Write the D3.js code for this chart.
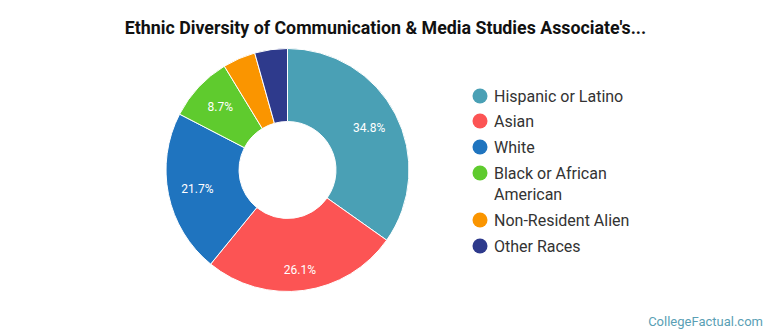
<!DOCTYPE html>
<html><head><meta charset="utf-8">
<script src="https://cdn.jsdelivr.net/npm/d3@7"></script>
<style>body{margin:0;background:#fff;} svg{display:block;font-family:Roboto,"Noto Sans",sans-serif;}</style>
</head><body><svg id="c" width="770" height="335"></svg>
<script>
const categories = ["Hispanic or Latino","Asian","White","Black or African American","Non-Resident Alien","Other Races"];
const values = [34.8, 26.1, 21.7, 8.7, 4.35, 4.35];
const colors = ["#4aa0b5","#fc5454","#1f74bf","#5fcb2e","#fa9500","#2e3a8c"];
const legendLines = [["Hispanic or Latino"],["Asian"],["White"],["Black or African","American"],["Non-Resident Alien"],["Other Races"]];

const svg = d3.select("#c");
svg.append("text").attr("x",385.5).attr("y",34).attr("text-anchor","middle")
  .attr("font-size",17.8).attr("font-weight","bold").attr("fill","#111")
  .text("Ethnic Diversity of Communication & Media Studies Associate's...");

const cx=287.5, cy=170, R=121.5, r=48.5;
const pie = d3.pie().sort(null).value(d=>d.v);
const data = pie(values.map((v,i)=>({v,i})));
const arc = d3.arc().innerRadius(r).outerRadius(R);
const g = svg.append("g").attr("transform",`translate(${cx},${cy})`);
g.selectAll("path").data(data).join("path").attr("d",arc)
  .attr("fill",d=>colors[d.data.i]).attr("stroke","#fff").attr("stroke-width",1);
const labPos = d=>{
  const a=(d.startAngle+d.endAngle)/2, dx=Math.sin(a), dy=-Math.cos(a);
  return [92*dx, 92*dy + (dy>0 ? 9*Math.pow(dy,4) : 0)];
};
g.selectAll("text").data(data.filter(d=>d.data.v>5)).join("text")
  .attr("transform",d=>`translate(${labPos(d)})`).attr("text-anchor","middle").attr("dy","0.35em")
  .attr("font-size",12).attr("fill","#fff").text(d=>d.data.v.toFixed(1)+"%");

const lg = svg.append("g");
const rowY = [96,121,147,173,220,246];
legendLines.forEach((lines,i)=>{
  const y = rowY[i];
  lg.append("circle").attr("cx",480).attr("cy",y).attr("r",7.5).attr("fill",colors[i]);
  lines.forEach((t,j)=>{
    lg.append("text").attr("x",494).attr("y",y+j*21).attr("dy","0.35em")
      .attr("font-size",16).attr("fill","#333").text(t);
  });
});
svg.append("text").attr("x",763).attr("y",326).attr("text-anchor","end")
  .attr("font-size",13).attr("fill","#5a9fb5").text("CollegeFactual.com");
</script></body></html>
